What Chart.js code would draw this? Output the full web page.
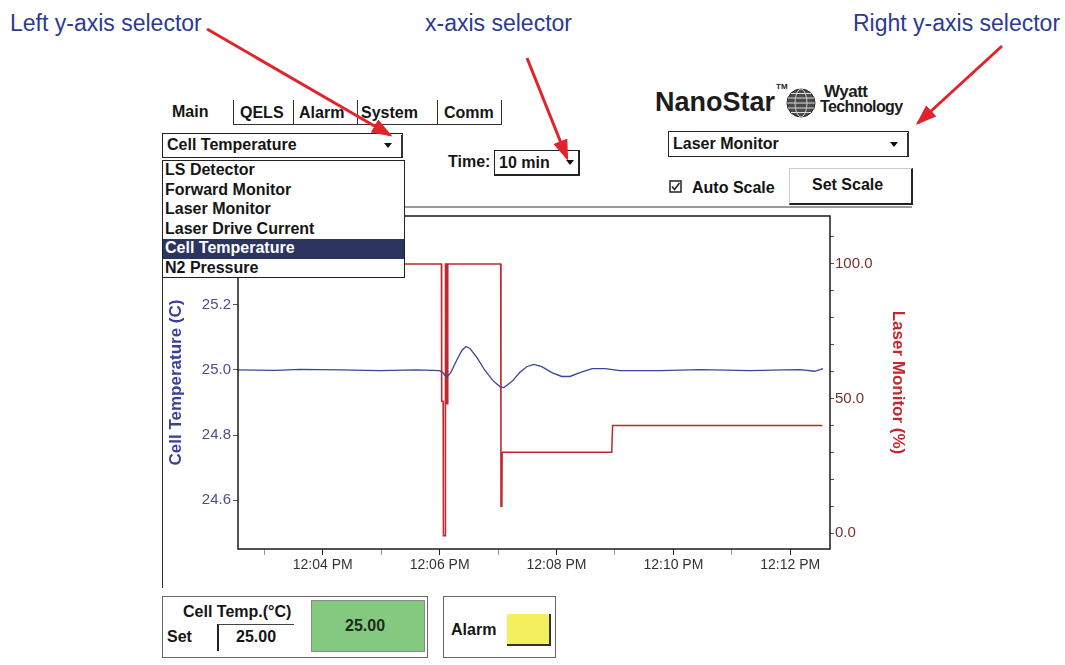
<!DOCTYPE html>
<html>
<head>
<meta charset="utf-8">
<script src="https://cdn.jsdelivr.net/npm/chart.js@4"></script>
<style>
  body { margin: 0; width: 1065px; height: 665px; background: #fff; overflow: hidden; position: relative; font-family: 'Liberation Sans', Arial, sans-serif; }
  .abs { position: absolute; }
  .note { position: absolute; font: 23px 'Liberation Sans', Arial, sans-serif; color: #2c3a92; white-space: nowrap; top: 10px; }
  .t { position: absolute; font: bold 16px 'Liberation Sans', Arial, sans-serif; line-height: 18px; color: #151515; white-space: nowrap; }
  .vline { position: absolute; border-left: 1.5px solid #333; width: 0; }
  .hline { position: absolute; border-top: 1.5px solid #333; height: 0; }
  .combo { position: absolute; border: 1px solid #222; background: #fff; box-sizing: border-box; }
  .arrow { position: absolute; width: 0; height: 0; border-left: 4px solid transparent; border-right: 4px solid transparent; border-top: 5px solid #111; }
  #list { position: absolute; left: 162px; top: 160px; width: 243px; height: 118px; border: 1.5px solid #222; background: #fff; box-sizing: border-box; }
  #list div { height: 19.5px; line-height: 19.5px; padding-left: 2px; font: bold 16px 'Liberation Sans', Arial, sans-serif; color: #151515; }
  #list div.sel { background: #2b3560; color: #fff; }
</style>
</head>
<body>
<canvas id="trend" class="abs" width="770" height="385" style="left:150px; top:205px;"></canvas>

<div class="note" style="left:10px">Left y-axis selector</div>
<div class="note" style="left:425px">x-axis selector</div>
<div class="note" style="left:853px">Right y-axis selector</div>

<!-- tabs -->
<div class="t" style="left:172px; top:103px">Main</div>
<div class="t" style="left:240px; top:104px">QELS</div>
<div class="t" style="left:299px; top:104px">Alarm</div>
<div class="t" style="left:361px; top:104px">System</div>
<div class="t" style="left:444px; top:104px">Comm</div>
<div class="vline" style="left:233px; top:100px; height:25px"></div>
<div class="vline" style="left:293px; top:100px; height:25px"></div>
<div class="vline" style="left:357px; top:100px; height:25px"></div>
<div class="vline" style="left:437px; top:100px; height:25px"></div>
<div class="vline" style="left:501px; top:100px; height:25px"></div>
<div class="hline" style="left:233px; top:124px; width:268px"></div>

<!-- left axis selector -->
<div class="combo" style="left:162px; top:133px; width:241px; height:25px"></div>
<div class="t" style="left:167px; top:136px">Cell Temperature</div>
<div class="arrow" style="left:384px; top:143px"></div>
<div class="vline" style="left:401px; top:135px; height:22px; border-left-width:2px"></div>

<!-- x axis selector -->
<div class="t" style="left:448px; top:153px">Time:</div>
<div class="combo" style="left:494px; top:150px; width:86px; height:26px; border-right-width:2px; border-bottom-width:2px"></div>
<div class="t" style="left:499px; top:154px">10 min</div>
<div class="arrow" style="left:566px; top:160px"></div>

<!-- logo -->
<div class="abs" style="left:655px; top:87px; font: bold 27px 'Liberation Sans', Arial, sans-serif; line-height:30px; color:#1c1c1c">NanoStar</div>
<div class="abs" style="left:776px; top:82px; font: bold 8px 'Liberation Sans', Arial, sans-serif; color:#222">TM</div>
<svg class="abs" style="left:785px; top:87px" width="32" height="32">
  <circle cx="16" cy="16" r="14" fill="#4a4a4a" stroke="#222" stroke-width="1"/>
  <path d="M3 11 H29 M2 16 H30 M3 21 H29 M6 6.5 H26 M6 25.5 H26" stroke="#ddd" stroke-width="1.2"/>
  <ellipse cx="16" cy="16" rx="6" ry="14" fill="none" stroke="#ccc" stroke-width="1"/>
</svg>
<div class="abs" style="left:820px; top:82px; width:101px; height:40px; overflow:hidden">
  <div class="abs" style="left:4px; top:0px; font: bold 17px 'Liberation Sans', Arial, sans-serif; color:#1c1c1c; letter-spacing:-0.5px">Wyatt</div>
  <div class="abs" style="left:0px; top:16px; font: bold 16px 'Liberation Sans', Arial, sans-serif; color:#1c1c1c; letter-spacing:-0.6px">Technology</div>
</div>

<!-- right axis selector -->
<div class="combo" style="left:668px; top:131px; width:241px; height:26px"></div>
<div class="t" style="left:673px; top:135px">Laser Monitor</div>
<div class="arrow" style="left:890px; top:142px"></div>
<div class="vline" style="left:907px; top:133px; height:23px; border-left-width:2px"></div>
<svg class="abs" style="left:669px; top:180px" width="14" height="14">
  <rect x="1" y="1" width="11" height="11" fill="#fff" stroke="#222" stroke-width="1.5"/>
  <path d="M3 6.5 L5.5 9.5 L10.5 3" fill="none" stroke="#222" stroke-width="1.6"/>
</svg>
<div class="t" style="left:692px; top:179px">Auto Scale</div>
<div class="abs" style="left:789px; top:168px; width:121px; height:34px; border-right:2px solid #222; border-bottom:2px solid #222; border-left:1px solid #ccc; border-top:1px solid #ccc"></div>
<div class="t" style="left:812px; top:176px">Set Scale</div>
<div class="abs" style="left:405px; top:206px; width:507px; height:0; border-top:2px solid #9a9a9a"></div>

<!-- outer panel edge -->
<div class="vline" style="left:162px; top:278px; height:310px"></div>

<!-- dropdown list -->
<div id="list">
  <div>LS Detector</div>
  <div>Forward Monitor</div>
  <div>Laser Monitor</div>
  <div>Laser Drive Current</div>
  <div class="sel">Cell Temperature</div>
  <div>N2 Pressure</div>
</div>

<!-- bottom panels -->
<div class="abs" style="left:162px; top:596px; width:264px; height:60px; border:1px solid #666"></div>
<div class="t" style="left:183px; top:603px">Cell Temp.(°C)</div>
<div class="t" style="left:167px; top:628px">Set</div>
<div class="abs" style="left:217px; top:624px; width:75px; height:26px; border-left:2px solid #222; border-top:1.5px solid #444"></div>
<div class="t" style="left:236px; top:628px">25.00</div>
<div class="abs" style="left:311px; top:600px; width:112px; height:50px; background:#85c980; border:1px solid #8a8a8a"></div>
<div class="t" style="left:345px; top:617px; color:#1e2a1e">25.00</div>
<div class="abs" style="left:443px; top:596px; width:111px; height:60px; border:1px solid #666"></div>
<div class="t" style="left:451px; top:621px">Alarm</div>
<div class="abs" style="left:507px; top:614px; width:42px; height:30px; background:#f4ef5c; border-right:2px solid #333; border-bottom:2px solid #333"></div>

<!-- annotation arrows -->
<svg class="abs" style="left:0; top:0" width="1065" height="665">
  <defs>
    <marker id="ah" markerWidth="7" markerHeight="5" refX="6" refY="2.5" orient="auto" markerUnits="strokeWidth">
      <path d="M0,0 L7,2.5 L0,5 Z" fill="#e3232b"/>
    </marker>
  </defs>
  <line x1="207" y1="29" x2="390" y2="135" stroke="#e3232b" stroke-width="3" marker-end="url(#ah)"/>
  <line x1="527" y1="58" x2="567" y2="158" stroke="#e3232b" stroke-width="3" marker-end="url(#ah)"/>
  <line x1="1002" y1="46" x2="918" y2="123" stroke="#e3232b" stroke-width="3" marker-end="url(#ah)"/>
</svg>

<script>
// time in minutes after 12:00 PM
const xTicks = [3, 4, 5, 6, 7, 8, 9, 10, 11, 12]
const xLabelTicks = [4, 6, 8, 10, 12]
const xTickLabels = ['12:04 PM', '12:06 PM', '12:08 PM', '12:10 PM', '12:12 PM']

const leftTicks = [24.6, 24.8, 25.0, 25.2]
const rightTicks = [0, 10, 20, 30, 40, 50, 60, 70, 80, 90, 100, 110]
const rightLabelTicks = [0, 50, 100]
const rightTickLabels = ['0.0', '50.0', '100.0']

// cell temperature (C), left axis
const tempTime = [2.55, 3.2, 3.61, 4.3, 4.98, 5.6, 6.0, 6.055, 6.12, 6.19, 6.29, 6.38, 6.45, 6.52, 6.64, 6.77, 6.91, 7.03, 7.1, 7.24, 7.37, 7.49, 7.61, 7.75, 7.92, 8.09, 8.23, 8.4, 8.61, 8.83, 9.09, 9.77, 10.46, 11.31, 11.9, 12.17, 12.42, 12.56]
const tempValue = [25.0, 24.999, 25.002, 25.0, 24.998, 25.0, 24.998, 24.992, 24.977, 24.992, 25.029, 25.06, 25.072, 25.066, 25.038, 25.0, 24.968, 24.949, 24.946, 24.965, 24.992, 25.01, 25.017, 25.01, 24.992, 24.98, 24.98, 24.992, 25.004, 25.004, 24.998, 24.998, 25.001, 24.998, 25.0, 25.001, 24.996, 25.004]

// laser monitor (%), right axis
const laserTime = [2.55, 6.03, 6.035, 6.06, 6.065, 6.095, 6.1, 6.115, 6.12, 6.135, 6.14, 7.045, 7.05, 7.065, 7.07, 8.945, 8.96, 12.55]
const laserValue = [100, 100, 49, 49, -1, -1, 100, 100, 48, 48, 100, 100, 10, 10, 30, 30, 40, 40]

const frame = {
  id: 'frame',
  afterDraw(chart) {
    const { ctx, chartArea: a } = chart
    ctx.save()
    ctx.strokeStyle = '#1a1a1a'
    ctx.lineWidth = 1.5
    ctx.strokeRect(a.left, a.top, a.right - a.left, a.bottom - a.top)
    ctx.restore()
  },
}

const tickFont = { family: 'Liberation Sans', size: 15 }
const titleFont = { family: 'Liberation Sans', size: 17, weight: 'bold' }

new Chart(document.getElementById('trend'), {
  type: 'line',
  data: {
    datasets: [
      {
        label: 'Cell Temperature',
        data: tempTime.map((t, i) => ({ x: t, y: tempValue[i] })),
        borderColor: '#3a4696',
        borderWidth: 1.3,
        pointRadius: 0,
        tension: 0,
        yAxisID: 'y',
      },
      {
        label: 'Laser Monitor',
        data: laserTime.map((t, i) => ({ x: t, y: laserValue[i] })),
        borderColor: '#c3262d',
        borderWidth: 1.5,
        pointRadius: 0,
        tension: 0,
        yAxisID: 'y2',
      },
    ],
  },
  options: {
    responsive: false,
    animation: false,
    layout: { padding: { top: 10, left: 0, right: 0, bottom: 0 } },
    plugins: { legend: { display: false }, tooltip: { enabled: false } },
    scales: {
      x: {
        type: 'linear',
        min: 2.55,
        max: 12.68,
        afterBuildTicks: (s) => { s.ticks = xTicks.map((v) => ({ value: v })) },
        afterFit: (s) => { s.height = 41 },
        border: { display: false },
        grid: {
          drawOnChartArea: false,
          tickLength: 6,
          tickColor: (c) => (xLabelTicks.includes(c.tick.value) ? '#222' : '#999'),
        },
        ticks: {
          autoSkip: false,
          maxRotation: 0,
          padding: 2,
          color: '#333',
          font: { family: 'Liberation Sans', size: 14 },
          callback: (v) => {
            const i = xLabelTicks.indexOf(v)
            return i >= 0 ? xTickLabels[i] : ''
          },
        },
      },
      y: {
        position: 'left',
        min: 24.45,
        max: 25.473,
        afterBuildTicks: (s) => { s.ticks = leftTicks.map((v) => ({ value: v })) },
        afterFit: (s) => { s.width = 88 },
        border: { display: false },
        grid: { drawOnChartArea: false, tickLength: 5, tickColor: '#555' },
        ticks: { padding: 2, color: '#4a4f8f', font: tickFont, callback: (v) => v.toFixed(1) },
        title: {
          display: true,
          text: 'Cell Temperature (C)',
          color: '#3c3f9a',
          font: titleFont,
          padding: { top: 16, bottom: 0 },
        },
      },
      y2: {
        position: 'right',
        min: -5.93,
        max: 117.8,
        afterBuildTicks: (s) => { s.ticks = rightTicks.map((v) => ({ value: v })) },
        afterFit: (s) => { s.width = 90 },
        border: { display: false },
        grid: { drawOnChartArea: false, tickLength: 4, tickColor: '#555' },
        ticks: {
          padding: 1,
          color: '#7d2e2e',
          font: tickFont,
          callback: (v) => {
            const i = rightLabelTicks.indexOf(v)
            return i >= 0 ? rightTickLabels[i] : ''
          },
        },
        title: {
          display: true,
          text: 'Laser Monitor (%)',
          color: '#c4262e',
          font: titleFont,
          padding: { top: 12, bottom: 0 },
        },
      },
    },
  },
  plugins: [frame],
})
</script>
</body>
</html>
